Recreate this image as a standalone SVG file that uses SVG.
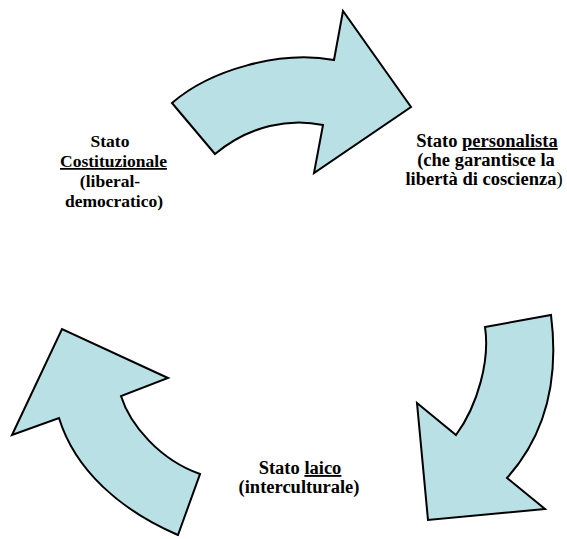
<svg xmlns="http://www.w3.org/2000/svg" width="567" height="539" viewBox="0 0 567 539">
  <style>
    .arrow { fill: #b9e0e4; stroke: #000; stroke-width: 2; stroke-linejoin: miter; }
    .u { text-decoration: underline; }
  </style>
  <rect width="567" height="539" fill="#fff"/>

  <!-- curved block arrows forming the cycle -->
  <g id="connectors">
    <path id="arrow-top" class="arrow" d="M172,103 C210,70 280,50 334,60 L343,11 L411,107 L314,173 L323,125 C290,118 250,125 215,154 Z"/>
    <path id="arrow-right" class="arrow" d="M485,327 L551,315 C558,370 550,430 507,478 L545,509 L428,520 L417,403 L456,435 C478,405 490,360 485,327 Z"/>
    <path id="arrow-left" class="arrow" d="M178,535 C120,510 75,470 59,418 L12,435 L62,329 L168,378 L121,396 C130,425 160,460 200,474 Z"/>
  </g>

  <g id="node-costituzionale" font-family="Liberation Serif" font-weight="bold" font-size="17.5" text-anchor="middle">
    <text x="110" y="147">Stato</text>
    <text x="113.5" y="167" class="u">Costituzionale</text>
    <text x="110" y="187">(liberal-</text>
    <text x="114" y="207">democratico)</text>
  </g>

  <g id="node-personalista" font-family="Liberation Serif" font-weight="bold" font-size="18.5" text-anchor="middle">
    <text x="487" y="147">Stato <tspan class="u">personalista</tspan></text>
    <text x="486" y="166">(che garantisce la</text>
    <text x="484" y="185">libertà di coscienza<tspan font-weight="normal">)</tspan></text>
  </g>

  <g id="node-laico" font-family="Liberation Serif" font-weight="bold" font-size="18.5" text-anchor="middle">
    <text x="300" y="474">Stato <tspan class="u">laico</tspan></text>
    <text x="299" y="493">(interculturale)</text>
  </g>
</svg>
